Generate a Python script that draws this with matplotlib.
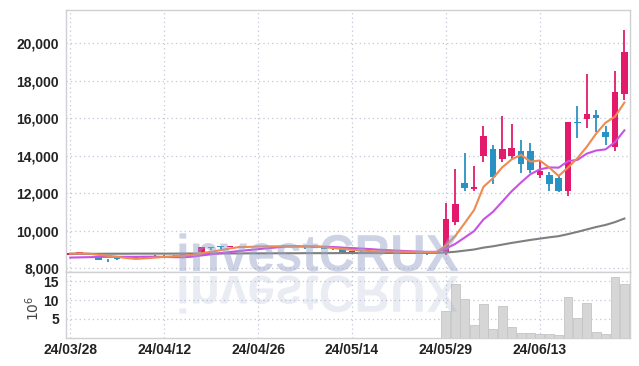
import matplotlib
matplotlib.use("Agg")
import matplotlib.pyplot as plt
import numpy as np
from matplotlib.textpath import TextPath
from matplotlib.patches import PathPatch
from matplotlib.font_manager import FontProperties
from matplotlib.transforms import Affine2D

# OHLC (KRW), 60 trading days
opens = [8700, 8760, 8790, 8600, 8480, 8560, 8530, 8560, 8500, 8620,
         8680, 8680, 8690, 8680, 8840, 9100, 9130, 9110, 9150, 9150,
         9160, 9150, 9160, 9130, 9240, 9120, 9080, 9060, 9040, 9010,
         8830, 8900, 8890, 8880, 8880, 8870, 8870, 8850, 8860, 8800,
         8854, 10454, 12534, 12230, 13990, 14347, 13797, 13990, 14240, 14240,
         12960, 12960, 12800, 12123, 15800, 15931, 16144, 15238, 14470, 17280]
highs = [8800, 8850, 8800, 8620, 8500, 8580, 8550, 8580, 8620, 8670,
         8700, 8700, 8720, 8800, 9130, 9120, 9150, 9180, 9170, 9170,
         9180, 9170, 9180, 9250, 9250, 9130, 9110, 9070, 9050, 9020,
         8920, 8920, 8910, 8900, 8890, 8890, 8880, 8870, 8870, 8880,
         11467, 13264, 14150, 13440, 15573, 14560, 16107, 15680, 14827, 14683,
         13723, 13137, 12960, 15803, 16656, 18347, 16427, 15573, 18523, 20693]
lows = [8680, 8740, 8740, 8440, 8340, 8420, 8500, 8520, 8490, 8520,
        8650, 8660, 8680, 8670, 8820, 8980, 9020, 9100, 9130, 9140,
        9140, 9140, 9150, 9120, 9100, 9030, 9060, 8990, 8970, 8820,
        8800, 8860, 8860, 8850, 8850, 8840, 8830, 8820, 8700, 8780,
        8694, 10294, 12123, 12123, 13638, 12480, 13670, 13797, 13083, 13067,
        12784, 12123, 12070, 11856, 14918, 15451, 15270, 14560, 14240, 16960]
closes = [8780, 8830, 8770, 8450, 8460, 8470, 8520, 8540, 8600, 8650,
          8670, 8690, 8700, 8780, 9120, 9050, 9110, 9170, 9150, 9160,
          9150, 9160, 9170, 9240, 9110, 9100, 9100, 9040, 9000, 8840,
          8900, 8890, 8880, 8870, 8870, 8860, 8850, 8850, 8830, 8860,
          10613, 11414, 12267, 12320, 15056, 12870, 14347, 14384, 13530, 13243,
          13174, 12480, 12123, 15771, 15760, 16198, 16016, 15003, 17387, 19504]

# moving averages
ma5 = [8770, 8780, 8770, 8700, 8658, 8596, 8534, 8488, 8518, 8556,
       8596, 8630, 8662, 8698, 8792, 8868, 8952, 9046, 9120, 9128,
       9148, 9158, 9158, 9176, 9166, 9156, 9144, 9118, 9070, 9016,
       8976, 8934, 8902, 8876, 8882, 8874, 8866, 8860, 8852, 8850,
       9201, 9713, 10397, 11095, 12334, 12785, 13372, 13795, 14037, 13675,
       13736, 13362, 12910, 13358, 13862, 14466, 15174, 15750, 16073, 16822]
ma10 = [8560, 8570, 8580, 8590, 8600, 8600, 8600, 8600, 8605, 8607,
        8596, 8582, 8575, 8608, 8674, 8732, 8791, 8854, 8909, 8960,
        9008, 9055, 9102, 9148, 9147, 9152, 9151, 9138, 9123, 9091,
        9066, 9039, 9010, 8973, 8949, 8925, 8900, 8881, 8864, 8866,
        9037, 9290, 9628, 9973, 10592, 10993, 11543, 12096, 12566, 13004,
        13261, 13367, 13353, 13698, 13768, 14101, 14268, 14330, 14716, 15342]
ma60 = [8760, 8760, 8760, 8760, 8765, 8765, 8765, 8770, 8770, 8770,
        8770, 8770, 8775, 8775, 8775, 8780, 8780, 8780, 8780, 8785,
        8785, 8785, 8790, 8790, 8790, 8795, 8795, 8795, 8795, 8800,
        8800, 8800, 8800, 8800, 8805, 8805, 8805, 8805, 8810, 8810,
        8830, 8870, 8930, 8990, 9090, 9160, 9250, 9340, 9420, 9500,
        9570, 9640, 9700, 9810, 9930, 10060, 10190, 10300, 10450, 10640]

# volume in millions of shares
volume = [0] * 40 + [7.2, 14.4, 10.2, 3.4, 9.0, 2.4, 8.5, 2.9, 1.25, 1.25,
                     1.0, 1.0, 0.7, 10.9, 5.3, 9.3, 1.5, 1.0, 16.2, 14.4]

tick_pos = [0, 10, 20, 30, 40, 50]
tick_labels = ["24/03/28", "24/04/12", "24/04/26", "24/05/14", "24/05/29", "24/06/13"]
price_ticks = [8000, 10000, 12000, 14000, 16000, 18000, 20000]
vol_ticks = [5, 10, 15]

up_col = "#e31a6c"
down_col = "#2992c4"
grid_col = "#c3c7d8"
spine_col = "#cfcfd4"
tick_font = {"family": "Liberation Sans", "weight": "bold", "size": 10}

o = np.array(opens)
h = np.array(highs)
l = np.array(lows)
c = np.array(closes)
x = np.arange(len(c))
cols = [up_col if cc >= oo else down_col for oo, cc in zip(o, c)]

fig = plt.figure(figsize=(6.39, 3.66), dpi=100)
ax = fig.add_axes([66 / 639, 1 - 272 / 366, 564 / 639, 262 / 366])
axv = fig.add_axes([66 / 639, 1 - 337.5 / 366, 564 / 639, 65.5 / 366], sharex=ax)

# candles
ax.vlines(x, l, h, colors=cols, linewidth=1.3, zorder=3)
body_bottom = np.minimum(o, c)
body_h = np.maximum(np.abs(c - o), 40)
ax.bar(x, body_h, bottom=body_bottom, width=0.7, color=cols, zorder=4)

ax.plot(x, ma60, color="#7f7f7f", lw=1.5, zorder=5)
ax.plot(x, ma10, color="#c852e6", lw=1.5, zorder=5)
ax.plot(x, ma5, color="#ef8a50", lw=1.5, zorder=5)

ax.set_ylim(7790, 21760)
ax.set_xlim(-0.45, 59.6)
ax.set_yticks(price_ticks)
ax.set_yticklabels([f"{t:,}" for t in price_ticks], fontdict=tick_font, color="#222222")
ax.tick_params(axis="y", length=0, pad=5)
ax.tick_params(axis="x", length=0, labelbottom=False)
ax.set_xticks(tick_pos)
ax.grid(True, color=grid_col, linestyle=(0, (1, 2.5)), linewidth=0.9)
ax.set_axisbelow(True)

# volume
axv.bar(x, volume, width=0.95, color="#d6d6d6", edgecolor="#c4c4c4", linewidth=0.6, zorder=3)
axv.set_ylim(0, 17.5)
axv.set_yticks(vol_ticks)
axv.set_yticklabels([str(t) for t in vol_ticks], fontdict=tick_font, color="#222222")
axv.set_xticks(tick_pos)
axv.set_xticklabels(tick_labels, fontdict=tick_font, color="#222222")
axv.tick_params(length=0)
axv.tick_params(axis="y", pad=5)
axv.tick_params(axis="x", pad=4)
axv.grid(True, color=grid_col, linestyle=(0, (1, 2.5)), linewidth=0.9)
axv.set_axisbelow(True)
axv.set_ylabel(r"$10^6$", fontsize=10, color="#444444", rotation=90)
axv.yaxis.set_label_coords(-0.042, 0.45)

for a in (ax, axv):
    for s in a.spines.values():
        s.set_color(spine_col)
        s.set_linewidth(1.0)

# watermark with reflection
wm = fig.add_axes([0, 0, 1, 1], zorder=10)
wm.set_xlim(0, 639)
wm.set_ylim(366, 0)
wm.axis("off")
wm.patch.set_alpha(0)
tp = TextPath((0, 0), "investCRUX", size=52,
              prop=FontProperties(family="Liberation Sans", weight="bold"))
wm.add_patch(PathPatch(tp, transform=Affine2D().scale(0.95, -1).translate(176, 271) + wm.transData,
                       facecolor="#97a3c8", edgecolor="none", alpha=0.48))
wm.add_patch(PathPatch(tp, transform=Affine2D().scale(0.95, 1).translate(176, 276) + wm.transData,
                       facecolor="#97a3c8", edgecolor="none", alpha=0.2))

fig.savefig("out.png", dpi=100)
